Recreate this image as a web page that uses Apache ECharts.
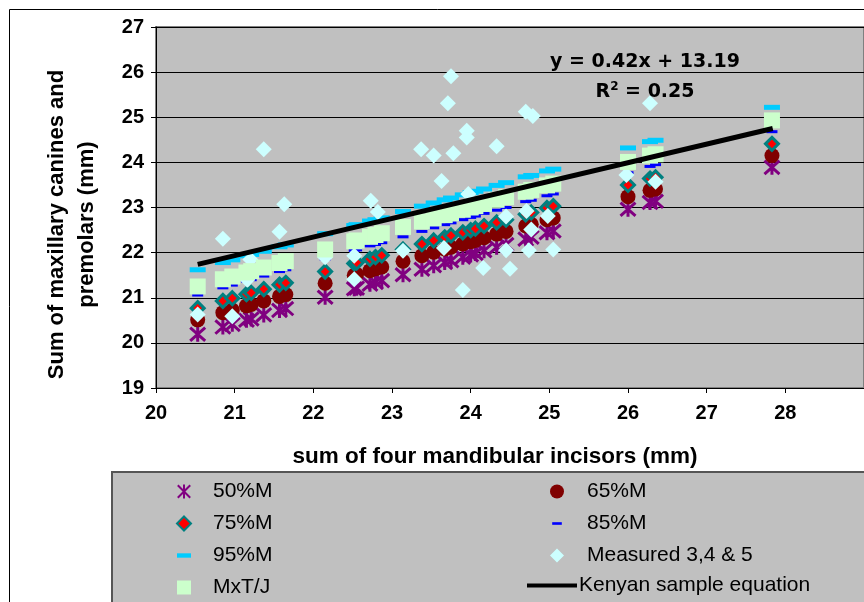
<!DOCTYPE html>
<html>
<head>
<meta charset="utf-8">
<script src="https://cdn.jsdelivr.net/npm/echarts@6/dist/echarts.min.js"></script>
<style>
html, body { margin: 0; padding: 0; background: #fff; }
#chart { width: 864px; height: 602px; }
</style>
</head>
<body>
<div id="chart"></div>
<script>
// sum of four mandibular incisors (x) for the prediction series
var incisors = [20.53, 20.85, 20.97, 21.15, 21.21, 21.37, 21.57, 21.65, 22.15, 22.52, 22.55, 22.72, 22.79, 22.87, 23.14, 23.38, 23.53, 23.67, 23.75, 23.90, 24.00, 24.06, 24.17, 24.33, 24.45, 24.70, 24.77, 24.97, 25.05, 26.00, 26.28, 26.35, 27.83];
var m50 = [20.19, 20.35, 20.41, 20.50, 20.53, 20.62, 20.72, 20.76, 21.01, 21.20, 21.21, 21.30, 21.34, 21.38, 21.51, 21.63, 21.71, 21.78, 21.82, 21.90, 21.95, 21.98, 22.04, 22.12, 22.18, 22.30, 22.34, 22.44, 22.48, 22.96, 23.11, 23.14, 23.89];
var m65 = [20.51, 20.67, 20.73, 20.82, 20.85, 20.93, 21.03, 21.07, 21.32, 21.50, 21.52, 21.60, 21.64, 21.68, 21.81, 21.93, 22.01, 22.08, 22.12, 22.19, 22.24, 22.27, 22.33, 22.41, 22.47, 22.59, 22.63, 22.73, 22.77, 23.24, 23.38, 23.41, 24.15];
var m75 = [20.77, 20.93, 20.99, 21.08, 21.11, 21.19, 21.29, 21.33, 21.58, 21.76, 21.78, 21.86, 21.90, 21.94, 22.07, 22.19, 22.27, 22.34, 22.38, 22.45, 22.50, 22.53, 22.59, 22.67, 22.73, 22.85, 22.89, 22.99, 23.03, 23.50, 23.64, 23.67, 24.41];
var m85 = [21.06, 21.22, 21.28, 21.37, 21.40, 21.48, 21.58, 21.62, 21.86, 22.05, 22.06, 22.15, 22.18, 22.22, 22.35, 22.47, 22.55, 22.62, 22.66, 22.73, 22.78, 22.81, 22.87, 22.94, 23.00, 23.13, 23.16, 23.26, 23.30, 23.77, 23.91, 23.95, 24.68];
var m95 = [21.62, 21.78, 21.84, 21.93, 21.96, 22.03, 22.13, 22.17, 22.42, 22.60, 22.62, 22.70, 22.73, 22.77, 22.91, 23.03, 23.10, 23.17, 23.21, 23.28, 23.33, 23.36, 23.41, 23.49, 23.55, 23.68, 23.71, 23.81, 23.85, 24.32, 24.46, 24.49, 25.22];
var mxtj = [21.25, 21.41, 21.47, 21.56, 21.59, 21.67, 21.77, 21.81, 22.07, 22.25, 22.27, 22.35, 22.39, 22.43, 22.57, 22.69, 22.76, 22.83, 22.87, 22.95, 23.00, 23.03, 23.08, 23.17, 23.23, 23.35, 23.39, 23.49, 23.53, 24.01, 24.15, 24.18, 24.93];

// measured sum of maxillary canines and premolars
var measuredX = [20.53, 20.85, 20.97, 21.16, 21.20, 21.37, 21.57, 21.63, 22.15, 22.52, 22.52, 22.73, 22.82, 23.14, 23.37, 23.53, 23.63, 23.66, 23.71, 23.75, 23.78, 23.90, 23.95, 23.95, 23.97, 24.16, 24.33, 24.45, 24.45, 24.50, 24.70, 24.71, 24.74, 24.77, 24.79, 24.98, 25.05, 25.98, 26.28, 26.35];
var measuredY = [20.63, 22.31, 20.59, 21.40, 21.85, 24.29, 22.46, 23.07, 21.90, 21.93, 21.41, 23.15, 22.90, 22.04, 24.29, 24.15, 23.59, 22.10, 25.31, 25.91, 24.20, 21.17, 24.70, 24.55, 23.30, 21.66, 24.36, 22.80, 22.05, 21.64, 25.12, 22.92, 22.05, 22.51, 25.03, 22.81, 22.07, 23.72, 25.31, 23.57];

// Kenyan sample equation line end points
var kenyanX = [20.53, 27.84];
var kenyanY = [21.74, 24.75];

function pairs(xs, ys) {
    return xs.map(function (x, i) { return [x, ys[i]]; });
}

var chart = echarts.init(document.getElementById('chart'));

var labelFont = { fontFamily: 'Liberation Sans', fontWeight: 'bold', fontSize: 20, color: '#000' };

function legendText(gap) {
    return { fontFamily: 'Liberation Sans', fontSize: 21, color: '#000', padding: [0, 0, 0, gap] };
}

// marker shapes; the dashes sit in a square box so the legend keeps them flat
var starPath = 'path://M0,0L16,16M16,0L0,16M8,-1L8,17';
var dash85 = 'path://M0,0L0,0M2.5,6.5H13.5V9.5H2.5ZM16,16L16,16';
var dash95 = 'path://M0,0L0,0M0,5.5H16V10.5H0ZM16,16L16,16';
var lineIcon = 'path://M0,0L0,0M0,5H50V9H0ZM50,14L50,14';

chart.setOption({
    animation: false,
    backgroundColor: '#fff',
    grid: {
        left: 156, top: 27, right: -21, bottom: 214,
        show: true, backgroundColor: '#C0C0C0', borderColor: '#808080', borderWidth: 2
    },
    xAxis: {
        type: 'value', min: 20, max: 29, interval: 1,
        name: 'sum of four mandibular incisors (mm)',
        nameLocation: 'middle', nameGap: 57,
        nameTextStyle: { fontFamily: 'Liberation Sans', fontWeight: 'bold', fontSize: 22.5, color: '#000', padding: [0, 30, 0, 0] },
        axisLine: { show: true, onZero: false, lineStyle: { color: '#000', width: 1 } },
        axisTick: { show: true, inside: false, length: 5, lineStyle: { color: '#000' } },
        axisLabel: Object.assign({ margin: 15, showMaxLabel: false }, labelFont),
        splitLine: { show: false }
    },
    yAxis: {
        type: 'value', min: 19, max: 27, interval: 1,
        name: 'Sum of maxillary canines and\npremolars (mm)',
        nameLocation: 'middle', nameRotate: 90, nameGap: 54,
        nameTextStyle: { fontFamily: 'Liberation Sans', fontWeight: 'bold', fontSize: 22, lineHeight: 30, color: '#000', padding: [0, 34, 0, 0] },
        axisLine: { show: true, lineStyle: { color: '#000', width: 1 } },
        axisTick: { show: true, inside: false, length: 5, lineStyle: { color: '#000' } },
        axisLabel: Object.assign({ margin: 12 }, labelFont),
        splitLine: { show: true, lineStyle: { color: '#000', width: 1 } }
    },
    legend: [{
        orient: 'vertical', left: 176, top: 481, height: 200, padding: 0,
        itemWidth: 14, itemHeight: 14, itemGap: 11,
        textStyle: legendText(17),
        data: ['50%M', '75%M', '95%M', 'MxT/J']
    }, {
        orient: 'vertical', left: 550, top: 481, height: 200, padding: 0,
        itemWidth: 14, itemHeight: 14, itemGap: 11,
        textStyle: legendText(18),
        data: ['65%M', '85%M', 'Measured 3,4 & 5']
    }, {
        orient: 'vertical', left: 527, top: 575, padding: 0,
        itemWidth: 50, itemHeight: 14,
        textStyle: legendText(-3),
        data: [{ name: 'Kenyan sample equation', icon: lineIcon }]
    }],
    graphic: [
        { type: 'rect', z: -10, shape: { x: 9.5, y: 9.5, width: 900, height: 700 }, style: { fill: 'none', stroke: '#000', lineWidth: 1 } },
        { type: 'rect', z: -5, shape: { x: 112, y: 472, width: 800, height: 200 }, style: { fill: '#C0C0C0', stroke: '#555', lineWidth: 2 } },
        { type: 'text', x: 645, y: 62, z: 100, style: {
            text: 'y = 0.42x + 13.19', align: 'center', verticalAlign: 'middle',
            font: 'bold 19px "DejaVu Sans"', fill: '#000' } },
        { type: 'text', x: 645, y: 92, z: 100, style: {
            text: '{r|R}{s|2}{r| = 0.25}', align: 'center', verticalAlign: 'middle',
            rich: {
                r: { font: 'bold 19px "DejaVu Sans"', fill: '#000' },
                s: { font: 'bold 12px "DejaVu Sans"', fill: '#000', padding: [0, 0, 10, 0] }
            } } }
    ],
    series: [{
        name: '50%M', type: 'scatter', symbol: starPath, symbolSize: 15,
        itemStyle: { color: 'rgba(0,0,0,0)', borderColor: '#800080', borderWidth: 3, opacity: 1 },
        data: pairs(incisors, m50)
    }, {
        name: '65%M', type: 'scatter', symbol: 'circle', symbolSize: 15,
        itemStyle: { color: '#800000', opacity: 1 },
        data: pairs(incisors, m65)
    }, {
        name: '75%M', type: 'scatter', symbol: 'diamond', symbolSize: 13,
        itemStyle: { color: '#FF0000', borderColor: '#008080', borderWidth: 3, opacity: 1 },
        data: pairs(incisors, m75)
    }, {
        name: '85%M', type: 'scatter', symbol: dash85, symbolSize: 16,
        itemStyle: { color: '#0000FF', opacity: 1 },
        data: pairs(incisors, m85)
    }, {
        name: '95%M', type: 'scatter', symbol: dash95, symbolSize: 16,
        itemStyle: { color: '#00CCFF', opacity: 1 },
        data: pairs(incisors, m95)
    }, {
        name: 'Measured 3,4 & 5', type: 'scatter', symbol: 'diamond', symbolSize: 16,
        itemStyle: { color: '#CCFFFF', opacity: 1 },
        data: pairs(measuredX, measuredY)
    }, {
        name: 'MxT/J', type: 'scatter', symbol: 'rect', symbolSize: 16,
        itemStyle: { color: '#CCFFCC', opacity: 1 },
        data: pairs(incisors, mxtj)
    }, {
        name: 'Kenyan sample equation', type: 'line', symbol: 'none', showSymbol: false,
        lineStyle: { color: '#000', width: 5 },
        itemStyle: { color: '#000' },
        data: pairs(kenyanX, kenyanY)
    }]
});
</script>
</body>
</html>
